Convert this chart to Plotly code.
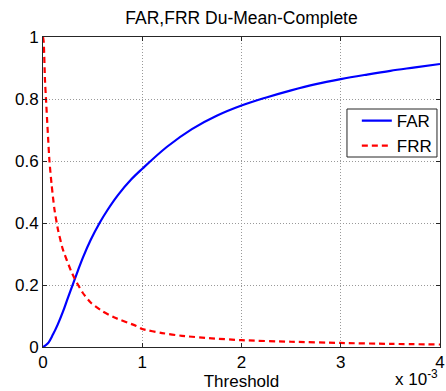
import plotly.graph_objects as go

# Threshold values are given in units of 1e-3
far_thr_e3 = [0, 0.047, 0.1, 0.148, 0.2, 0.25, 0.31, 0.35, 0.404, 0.48, 0.57, 0.65,
              0.755, 0.89, 1.0, 1.25, 1.5, 1.75, 2.0, 2.25, 2.5, 2.75, 3.0, 3.25, 3.5, 3.75, 4.0]
far_vals = [0, 0.011, 0.04, 0.072, 0.113, 0.158, 0.21, 0.245, 0.29, 0.345, 0.40, 0.442,
            0.49, 0.541, 0.575, 0.646, 0.703, 0.746, 0.779, 0.805, 0.828, 0.848, 0.864,
            0.878, 0.891, 0.902, 0.913]

frr_thr_e3 = [0, 0.007, 0.02, 0.03, 0.047, 0.065, 0.088, 0.115, 0.15, 0.2, 0.283, 0.317,
              0.4, 0.485, 0.6, 0.72, 0.94, 1.0, 1.2, 1.4, 1.7, 2.0, 2.5, 3.0, 3.5, 4.0]
frr_vals = [1.0, 0.985, 0.86, 0.80, 0.70, 0.60, 0.52, 0.445, 0.38, 0.315, 0.245, 0.222,
            0.175, 0.142, 0.115, 0.095, 0.068, 0.058, 0.045, 0.036, 0.028, 0.022, 0.017, 0.013, 0.010, 0.008]

x_tick_vals_e3 = [0, 1, 2, 3, 4]
x_tick_labels = ["0", "1", "2", "3", "4"]
y_tick_vals = [0, 0.2, 0.4, 0.6, 0.8, 1]
y_tick_labels = ["0", "0.2", "0.4", "0.6", "0.8", "1"]

SCALE = 1e-3
far_x = [v * SCALE for v in far_thr_e3]
frr_x = [v * SCALE for v in frr_thr_e3]
xtv = [v * SCALE for v in x_tick_vals_e3]

FONT = "Liberation Sans, Arial, Helvetica, sans-serif"
FS = 17

fig = go.Figure()
fig.add_trace(go.Scatter(x=far_x, y=far_vals, mode="lines", name="FAR",
                         line=dict(color="#0000ff", width=2.2, shape="spline", smoothing=1.0)))
fig.add_trace(go.Scatter(x=frr_x, y=frr_vals, mode="lines", name="FRR",
                         line=dict(color="#ff0000", width=2.2, dash="6px,4px", shape="spline", smoothing=0.6)))

axis_common = dict(
    showline=True, linecolor="#262626", linewidth=1, mirror="allticks",
    ticks="inside", ticklen=4, tickcolor="#262626",
    showgrid=True, gridcolor="#999999", griddash="1px,2px", gridwidth=1,
    zeroline=False, automargin=False,
    tickfont=dict(size=FS, color="#000000", family=FONT),
)

fig.update_xaxes(range=[0, 0.004], tickvals=xtv, ticktext=x_tick_labels,
                 title=dict(text="Threshold", font=dict(size=FS, color="#000000", family=FONT), standoff=0),
                 **axis_common)
fig.update_yaxes(range=[0, 1], tickvals=y_tick_vals, ticktext=y_tick_labels, **axis_common)

fig.add_annotation(text="x 10<sup>-3</sup>", xref="paper", yref="paper", x=1.0, y=-0.142,
                   xanchor="right", yanchor="bottom", showarrow=False,
                   font=dict(size=FS, color="#000000", family=FONT))

# legend frame (white box hiding the curves beneath, like the original)
fig.add_shape(type="rect", xref="paper", yref="paper",
              x0=0.7657, x1=0.9924, y0=0.6129, y1=0.7677,
              fillcolor="#ffffff", line=dict(color="#262626", width=1), layer="above")

fig.update_layout(
    width=446, height=391,
    margin=dict(l=43, r=6, t=37, b=44),
    paper_bgcolor="#ffffff", plot_bgcolor="#ffffff",
    title=dict(text="FAR,FRR Du-Mean-Complete", x=0.5415, xanchor="center", y=0.955, yanchor="middle",
               font=dict(size=17.5, color="#000000", family=FONT)),
    legend=dict(x=0.992, y=0.787, xanchor="right", yanchor="top",
                bgcolor="rgba(0,0,0,0)", borderwidth=0,
                font=dict(size=FS, color="#000000", family=FONT), itemwidth=30),
    showlegend=True,
)

fig.write_html("out.html", config={"displayModeBar": False},
               post_script="document.body.style.margin='0';")
